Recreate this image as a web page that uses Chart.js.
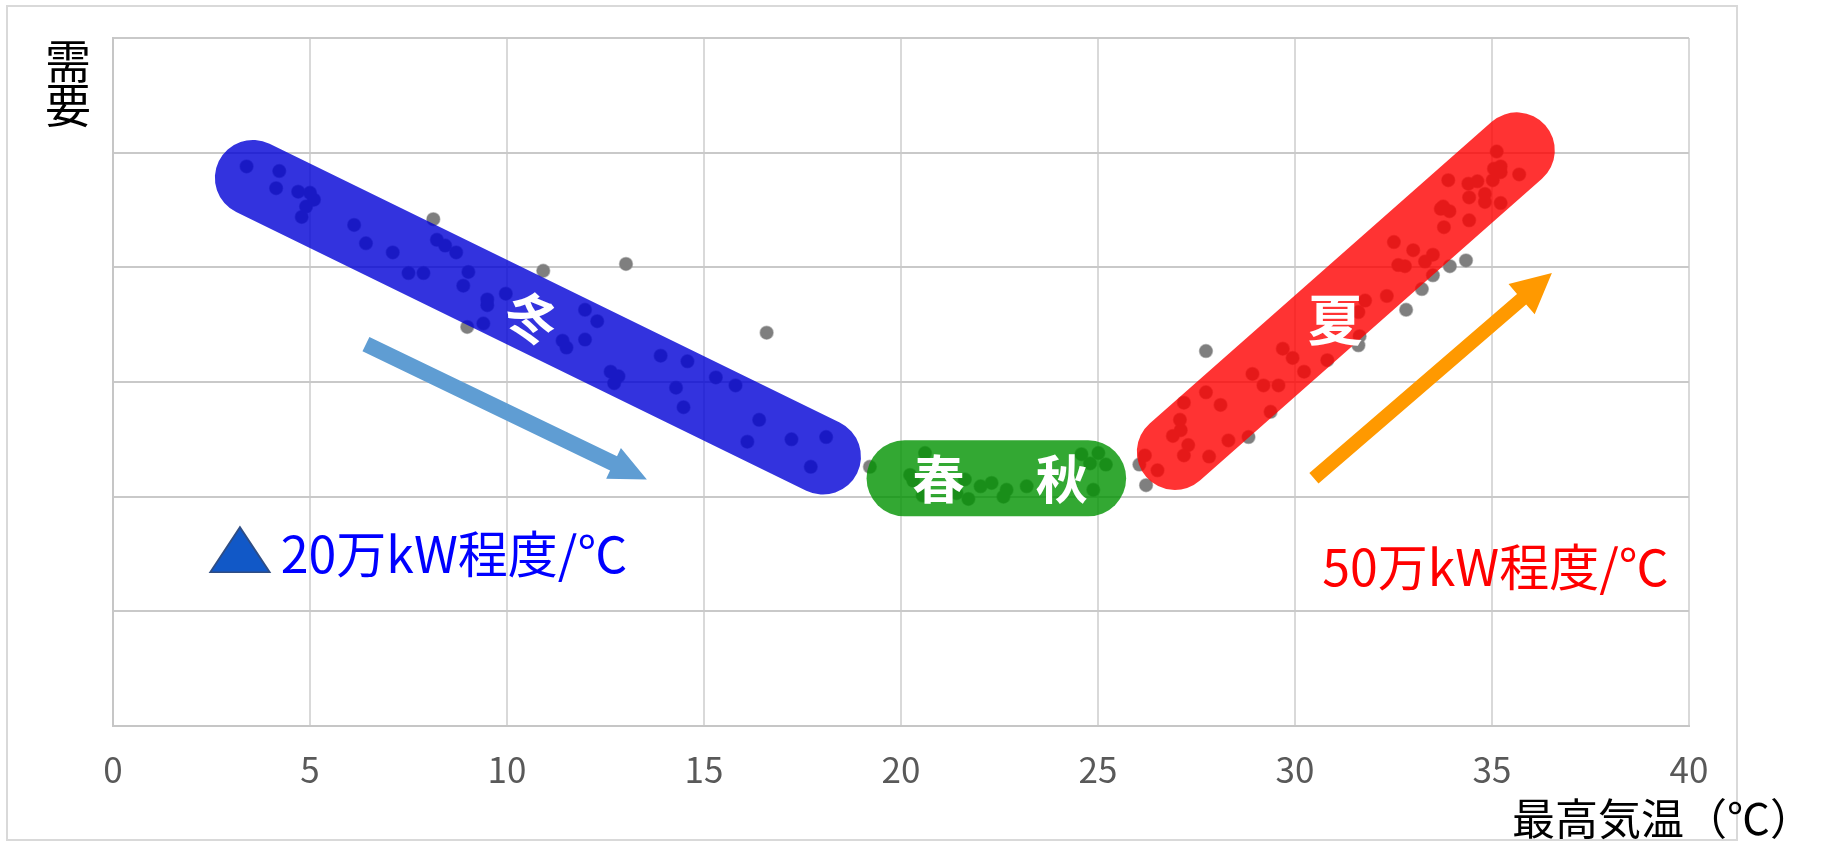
<!DOCTYPE html>
<html lang="ja">
<head>
<meta charset="utf-8">
<title>最高気温と需要</title>
<script src="https://cdn.jsdelivr.net/npm/chart.js@4.4.1/dist/chart.umd.min.js"></script>
<style>
  html, body { margin: 0; padding: 0; background: #ffffff; }
  #wrap { width: 1824px; height: 842px; }
</style>
</head>
<body>
<div id="wrap"><canvas id="demandChart" width="1824" height="842"></canvas></div>
<script>
// Daily max temperature (°C) vs demand (relative units, y axis has no labels)
const maxTemp = [
  3.39, 4.22, 4.14, 4.70, 5.00, 5.10, 4.90, 4.79, 6.12, 6.42, 7.10, 8.22, 8.43, 8.71,
  7.50, 7.88, 9.02, 8.89, 9.50, 9.50, 9.97, 9.40, 11.98, 12.29, 11.41, 11.51, 11.98,
  13.90, 14.58, 12.63, 12.83, 12.72, 14.29, 14.48, 15.30, 15.80, 16.40, 16.10, 17.22,
  18.10, 17.71,
  8.13, 10.92, 13.02, 8.99, 16.59, 19.21,
  20.61, 20.23, 20.31, 20.55, 21.41, 21.71, 21.62, 22.02, 22.30, 22.68, 22.60, 23.19,
  24.58, 25.01, 24.80, 25.20, 24.88,
  26.05, 26.22, 27.74, 28.82, 31.61, 31.64, 34.34, 33.93, 33.50, 33.22, 32.82,
  26.19, 26.51, 26.90, 27.10, 27.08, 27.18, 27.29, 27.18, 27.74, 28.11, 27.82, 28.31,
  28.92, 29.20, 29.58, 29.38, 29.69, 29.94, 30.23, 30.82, 31.61, 31.78, 32.33, 32.51,
  33.00, 33.50, 33.30, 32.62, 32.79, 33.78, 34.42, 33.76, 33.70, 33.92, 35.22, 34.82,
  34.42, 34.82, 35.02, 34.40, 34.63, 33.89, 35.69, 35.05, 35.22, 35.22, 35.12
];
const demand = [
  4.88, 4.84, 4.69, 4.66, 4.65, 4.59, 4.53, 4.44, 4.37, 4.21, 4.13, 4.24, 4.19, 4.13,
  3.95, 3.95, 3.96, 3.84, 3.72, 3.67, 3.77, 3.51, 3.63, 3.53, 3.36, 3.30, 3.37,
  3.23, 3.18, 3.09, 3.05, 2.99, 2.95, 2.78, 3.04, 2.97, 2.67, 2.48, 2.50,
  2.52, 2.26,
  4.42, 3.97, 4.03, 3.48, 3.43, 2.26,
  2.38, 2.19, 2.14, 2.01, 2.03, 1.98, 2.15, 2.09, 2.12, 2.06, 2.00, 2.09,
  2.37, 2.38, 2.29, 2.28, 2.06,
  2.28, 2.10, 3.27, 2.52, 3.32, 3.40, 4.06, 4.01, 3.93, 3.81, 3.63,
  2.36, 2.23, 2.53, 2.58, 2.67, 2.82, 2.45, 2.36, 2.91, 2.80, 2.35, 2.49,
  3.07, 2.97, 2.97, 2.74, 3.29, 3.21, 3.09, 3.19, 3.61, 3.71, 3.75, 4.22,
  4.15, 4.11, 4.05, 4.02, 4.01, 4.35, 4.41, 4.53, 4.51, 4.49, 4.56, 4.57,
  4.61, 4.64, 4.76, 4.73, 4.75, 4.76, 4.81, 4.86, 4.88, 4.83, 5.01
];

// x axis ticks
const tempTicks = [0, 5, 10, 15, 20, 25, 30, 35, 40];

// season bands (start / end in data units)
const seasonNames = ['冬', '春秋', '夏'];
const bandStartX = [3.55, 20.09, 26.95];
const bandStartY = [4.78, 2.16, 2.39];
const bandEndX = [18.02, 24.75, 35.63];
const bandEndY = [2.35, 2.16, 5.02];

// season labels
const labelText = ['冬', '春', '秋', '夏'];
const labelX = [10.63, 20.95, 24.08, 31.02];
const labelY = [3.56, 2.15, 2.15, 3.55];

// trend arrows (winter, summer)
const arrowFromX = [6.42, 30.48];
const arrowFromY = [3.33, 2.16];
const arrowToX = [13.55, 36.52];
const arrowToY = [2.15, 3.95];

// sensitivity notes
const noteText = ['20万kW程度/℃', '50万kW程度/℃'];
const noteX = [4.26, 30.69];
const noteY = [1.334, 1.22];
const markX = 2.46; // ▲ before the winter note

const FONT = '"Noto Sans CJK JP", "Noto Sans", sans-serif';

const points = maxTemp.map((t, i) => ({ x: t, y: demand[i] }));

const bandColors = ['rgba(0, 0, 214, 0.8)', 'rgba(0, 146, 0, 0.8)', 'rgba(255, 0, 0, 0.8)'];
const arrowColors = ['#5f9dd3', '#ff9900'];

function px(chart, x, y) {
  return [chart.scales.x.getPixelForValue(x), chart.scales.y.getPixelForValue(y)];
}

function drawArrow(c, x1, y1, x2, y2, shaftHalf, headLen, headHalf, color) {
  const a = Math.atan2(y2 - y1, x2 - x1);
  const len = Math.hypot(x2 - x1, y2 - y1);
  c.save();
  c.translate(x1, y1);
  c.rotate(a);
  c.fillStyle = color;
  c.beginPath();
  c.moveTo(0, -shaftHalf);
  c.lineTo(len - headLen, -shaftHalf);
  c.lineTo(len - headLen, -headHalf);
  c.lineTo(len, 0);
  c.lineTo(len - headLen, headHalf);
  c.lineTo(len - headLen, shaftHalf);
  c.lineTo(0, shaftHalf);
  c.closePath();
  c.fill();
  c.restore();
}

// background and outer frame
const framePlugin = {
  id: 'frame',
  beforeDraw(chart) {
    const c = chart.ctx;
    c.save();
    c.fillStyle = '#ffffff';
    c.fillRect(0, 0, chart.width, chart.height);
    c.strokeStyle = '#d9d9d9';
    c.lineWidth = 2;
    c.strokeRect(7, 6, 1730, 834);
    c.restore();
  },
  afterDraw(chart) {
    const c = chart.ctx;
    c.save();
    c.fillStyle = '#000000';
    c.textAlign = 'center';
    c.textBaseline = 'middle';
    c.font = '46px ' + FONT;
    c.fillText('需', 68, 61);
    c.fillText('要', 68, 105);
    c.textAlign = 'left';
    c.textBaseline = 'alphabetic';
    c.font = '43px ' + FONT;
    c.fillText('最高気温（℃）', 1512, 835);
    c.restore();
  }
};

// season bands, arrows and notes
const overlayPlugin = {
  id: 'overlay',
  afterDatasetsDraw(chart) {
    const c = chart.ctx;
    c.save();
    c.lineCap = 'round';
    c.lineWidth = 76;
    seasonNames.forEach((name, i) => {
      const [x1, y1] = px(chart, bandStartX[i], bandStartY[i]);
      const [x2, y2] = px(chart, bandEndX[i], bandEndY[i]);
      c.strokeStyle = bandColors[i];
      c.beginPath();
      c.moveTo(x1, y1);
      c.lineTo(x2, y2);
      c.stroke();
    });

    // labels on bands
    c.fillStyle = '#ffffff';
    c.textAlign = 'center';
    c.textBaseline = 'middle';
    const [wx1, wy1] = px(chart, bandStartX[0], bandStartY[0]);
    const [wx2, wy2] = px(chart, bandEndX[0], bandEndY[0]);
    const winterAngle = Math.atan2(wy2 - wy1, wx2 - wx1) * 0.85;
    labelText.forEach((t, i) => {
      const [lx, ly] = px(chart, labelX[i], labelY[i]);
      c.save();
      c.translate(lx, ly);
      if (t === '冬') c.rotate(winterAngle);
      c.font = 'bold ' + (t === '夏' ? 55 : 52) + 'px ' + FONT;
      c.fillText(t, 0, 0);
      c.restore();
    });

    // arrows
    const [ax1, ay1] = px(chart, arrowFromX[0], arrowFromY[0]);
    const [ax2, ay2] = px(chart, arrowToX[0], arrowToY[0]);
    drawArrow(c, ax1, ay1, ax2, ay2, 8, 37, 17, arrowColors[0]);
    const [bx1, by1] = px(chart, arrowFromX[1], arrowFromY[1]);
    const [bx2, by2] = px(chart, arrowToX[1], arrowToY[1]);
    drawArrow(c, bx1, by1, bx2, by2, 7, 40, 20, arrowColors[1]);

    // notes
    c.textAlign = 'left';
    c.textBaseline = 'alphabetic';
    c.font = '50px ' + FONT;
    const [n1x, n1y] = px(chart, noteX[0], noteY[0]);
    c.fillStyle = '#0000ff';
    c.fillText(noteText[0], n1x, n1y);
    const [n2x, n2y] = px(chart, noteX[1], noteY[1]);
    c.fillStyle = '#ff0000';
    c.fillText(noteText[1], n2x, n2y);

    // ▲ mark, about 60px wide and 46px tall, bottom on the note baseline
    const markFont = '"DejaVu Sans", sans-serif';
    c.font = '100px ' + markFont;
    const m = c.measureText('▲');
    const w = m.actualBoundingBoxLeft + m.actualBoundingBoxRight;
    const h = m.actualBoundingBoxAscent + m.actualBoundingBoxDescent;
    const sx = 60 / w;
    const sy = 46 / h;
    const [mx, my] = px(chart, markX, noteY[0]);
    c.save();
    c.translate(mx, my);
    c.scale(sx, sy);
    c.fillStyle = '#1158c7';
    c.fillText('▲', m.actualBoundingBoxLeft, -m.actualBoundingBoxDescent);
    c.strokeStyle = '#2f4d84';
    c.lineWidth = 2 / sx;
    c.strokeText('▲', m.actualBoundingBoxLeft, -m.actualBoundingBoxDescent);
    c.restore();
    c.restore();
  }
};

const ctx = document.getElementById('demandChart').getContext('2d');
const chart = new Chart(ctx, {
  type: 'scatter',
  data: {
    datasets: [{
      label: '需要',
      data: points,
      pointRadius: 6.5,
      pointHoverRadius: 6.5,
      pointBackgroundColor: '#7f7f7f',
      pointBorderColor: 'rgba(128, 128, 128, 0.5)',
      pointBorderWidth: 1.5,
    }],
  },
  options: {
    responsive: false,
    devicePixelRatio: 1,
    animation: false,
    layout: { padding: { left: 113, top: 38, right: 135, bottom: 0 } },
    plugins: {
      legend: { display: false },
      tooltip: { enabled: false },
    },
    scales: {
      x: {
        type: 'linear',
        min: 0,
        max: 40,
        afterBuildTicks: (s) => { s.ticks = tempTicks.map(v => ({ value: v })); },
        ticks: {
          color: '#595959',
          font: { family: FONT, size: 35 },
          padding: 23,
          maxRotation: 0,
        },
        grid: { color: '#d9d9d9', lineWidth: 2, drawTicks: false },
        border: { color: '#c6c6c6', width: 2 },
        afterFit: (s) => { s.height = 116; },
      },
      y: {
        type: 'linear',
        min: 0,
        max: 6,
        ticks: { display: false, stepSize: 1 },
        grid: { color: '#c9c9c9', lineWidth: 2, drawTicks: false },
        border: { color: '#c6c6c6', width: 2 },
        afterFit: (s) => { s.width = 0; },
      },
    },
  },
  plugins: [framePlugin, overlayPlugin],
});
</script>
</body>
</html>
